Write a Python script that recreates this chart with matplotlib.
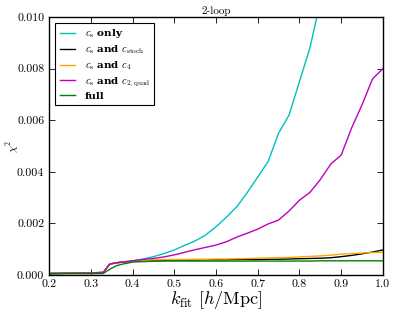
import numpy as np
import matplotlib
matplotlib.use("Agg")
import matplotlib.pyplot as plt

plt.rcParams['font.family'] = 'serif'
plt.rcParams['font.serif'] = ['cmr10', 'DejaVu Serif']
plt.rcParams['mathtext.fontset'] = 'cm'
plt.rcParams['axes.formatter.use_mathtext'] = True
plt.rcParams['xtick.direction'] = 'in'
plt.rcParams['ytick.direction'] = 'in'
plt.rcParams['xtick.top'] = True
plt.rcParams['ytick.right'] = True

# fit scale
k_fit = [0.20, 0.25, 0.30, 0.33, 0.345, 0.36, 0.375, 0.40, 0.425, 0.45, 0.475,
         0.50, 0.525, 0.55, 0.575, 0.60, 0.625, 0.65, 0.675, 0.70, 0.725,
         0.75, 0.775, 0.80, 0.825, 0.85, 0.875, 0.90, 0.925, 0.95, 0.975, 1.00]

# chi^2 in units of 1e-3
cs_only = [0.06, 0.07, 0.08, 0.10, 0.42, 0.47, 0.50, 0.55, 0.62, 0.71, 0.83,
           0.97, 1.15, 1.32, 1.55, 1.87, 2.24, 2.65, 3.20, 3.80, 4.40,
           5.50, 6.20, 7.50, 8.80, 10.6, 12.5, 14.5, 16.0, 18.0, 20.0, 22.0]
cs_stoch = [0.06, 0.07, 0.08, 0.10, 0.42, 0.47, 0.50, 0.53, 0.55, 0.56, 0.57,
            0.58, 0.58, 0.58, 0.59, 0.59, 0.59, 0.60, 0.60, 0.60, 0.61,
            0.61, 0.62, 0.63, 0.64, 0.65, 0.67, 0.71, 0.76, 0.82, 0.89, 0.97]
cs_c4 = [0.06, 0.07, 0.08, 0.10, 0.42, 0.47, 0.50, 0.53, 0.56, 0.58, 0.59,
         0.60, 0.60, 0.61, 0.61, 0.62, 0.62, 0.63, 0.64, 0.65, 0.66,
         0.67, 0.68, 0.70, 0.72, 0.74, 0.77, 0.81, 0.83, 0.85, 0.87, 0.88]
cs_c2quad = [0.06, 0.07, 0.08, 0.10, 0.42, 0.47, 0.50, 0.55, 0.60, 0.64, 0.70,
             0.78, 0.88, 0.98, 1.07, 1.16, 1.29, 1.47, 1.62, 1.78, 1.98,
             2.13, 2.48, 2.90, 3.20, 3.70, 4.30, 4.65, 5.70, 6.60, 7.60, 8.00]
full = [0.04, 0.05, 0.05, 0.06, 0.22, 0.35, 0.42, 0.50, 0.52, 0.53, 0.54,
        0.54, 0.54, 0.54, 0.54, 0.54, 0.54, 0.54, 0.54, 0.54, 0.54,
        0.54, 0.54, 0.54, 0.54, 0.55, 0.55, 0.55, 0.55, 0.55, 0.55, 0.55]

series = [
    (cs_only, 'c', r'$c_{\rm s}$ only'),
    (cs_stoch, 'k', r'$c_{\rm s}$ and $c_{\rm stoch}$'),
    (cs_c4, 'orange', r'$c_{\rm s}$ and $c_4$'),
    (cs_c2quad, 'm', r'$c_{\rm s}$ and $c_{2,{\rm quad}}$'),
    (full, 'g', 'full'),
]

fig = plt.figure(figsize=(3.96, 3.15), dpi=100)
ax = fig.add_axes([0.124, 0.127, 0.843, 0.819])

k = np.array(k_fit)
for vals, col, lab in series:
    ax.plot(k, np.array(vals) * 1e-3, color=col, lw=1.0, label=lab)

ax.set_xlim(0.2, 1.0)
ax.set_ylim(0.0, 0.010)
ax.set_xticks(np.arange(0.2, 1.01, 0.1))
ax.set_yticks(np.arange(0.0, 0.0101, 0.002))
ax.xaxis.set_major_formatter(plt.FormatStrFormatter('%.1f'))
ax.yaxis.set_major_formatter(plt.FormatStrFormatter('%.3f'))
ax.tick_params(labelsize=8.5, length=4, width=0.6)
for sp in ax.spines.values():
    sp.set_linewidth(1.0)

ax.set_xlabel(r'$k_{\rm fit}\ [h/{\rm Mpc}]$', fontsize=13, labelpad=0)
ax.set_ylabel(r'$\chi^2$', fontsize=8)
ax.yaxis.set_label_coords(-0.085, 0.5)
ax.set_title('2-loop', fontsize=8, pad=2)

leg = ax.legend(loc='upper left', fancybox=False, framealpha=1,
                prop={'family': 'DejaVu Serif', 'weight': 'bold', 'size': 7.5},
                edgecolor='k', handlelength=1.5, handletextpad=0.9,
                borderpad=0.4, labelspacing=0.3, borderaxespad=0.6)
leg.get_frame().set_linewidth(0.8)

fig.savefig('out.png', dpi=100)
